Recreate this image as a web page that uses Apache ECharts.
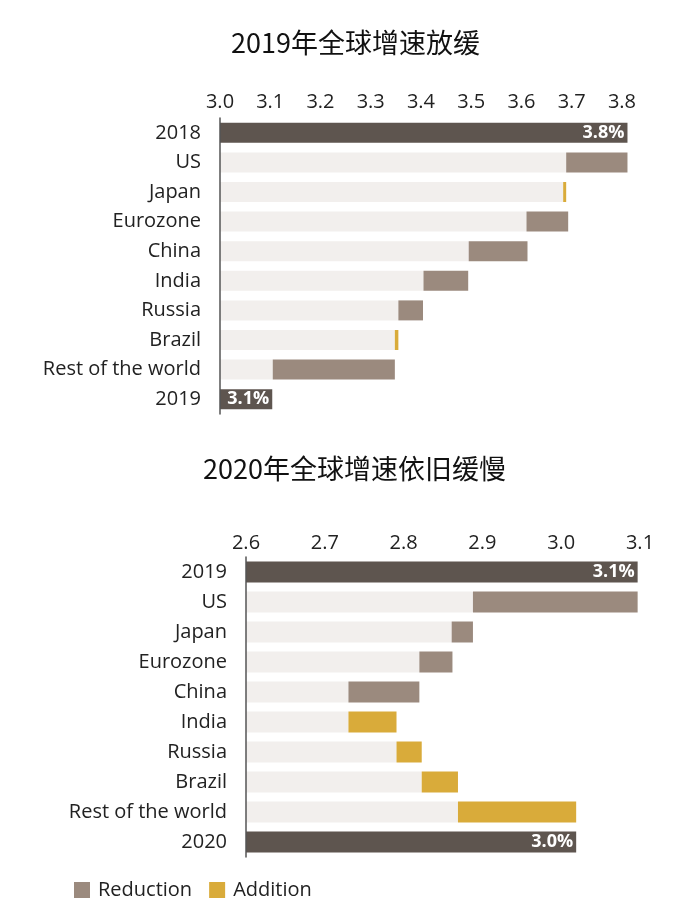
<!DOCTYPE html>
<html>
<head>
<meta charset="utf-8">
<script src="https://cdn.jsdelivr.net/npm/echarts@6/dist/echarts.min.js"></script>
<style>
html,body{margin:0;padding:0;background:#fff;}
#c{width:680px;height:924px;}
</style>
</head>
<body>
<div id="c"></div>
<script>
// ---- Chart 1: 2019 ----
const topTitle = '2019年全球增速放缓';
const topCategories = ['2018','US','Japan','Eurozone','China','India','Russia','Brazil','Rest of the world','2019'];
const topTotals = [3.811, null, null, null, null, null, null, null, null, 3.104];
const topTotalLabels = ['3.8%', '', '', '', '', '', '', '', '', '3.1%'];
const topLow  = [null, 3.689, 3.683, 3.610, 3.495, 3.405, 3.355, 3.348, 3.105, null];
const topHigh = [null, 3.811, 3.689, 3.693, 3.612, 3.494, 3.404, 3.355, 3.348, null];
const topKind = ['total','reduction','addition','reduction','reduction','reduction','reduction','addition','reduction','total'];
const topTicks = [3.0, 3.82, 0.1]; // min, axis end, step (labels 3.0–3.8)

// ---- Chart 2: 2020 ----
const botTitle = '2020年全球增速依旧缓慢';
const botCategories = ['2019','US','Japan','Eurozone','China','India','Russia','Brazil','Rest of the world','2020'];
const botTotals = [3.097, null, null, null, null, null, null, null, null, 3.019];
const botTotalLabels = ['3.1%', '', '', '', '', '', '', '', '', '3.0%'];
const botLow  = [null, 2.888, 2.861, 2.820, 2.730, 2.730, 2.791, 2.823, 2.869, null];
const botHigh = [null, 3.097, 2.888, 2.862, 2.820, 2.791, 2.823, 2.869, 3.019, null];
const botKind = ['total','reduction','reduction','reduction','reduction','addition','addition','addition','addition','total'];
const botTicks = [2.6, 3.1, 0.1];

const legendNames = ['Reduction', 'Addition'];

const C_TOTAL = '#5e554f', C_RED = '#9b8a7e', C_ADD = '#d9ab3a', C_BASE = '#f2efed';
const FONT = '"Open Sans", "Noto Sans", sans-serif';
const CJK = '"Noto Sans CJK SC", sans-serif';

function deltas(low, high, kind, which) {
  return low.map((l, i) => (kind[i] === which && l != null) ? +(high[i] - l).toFixed(4) : null);
}

function buildSeries(idx, low, high, kind, totals, labels, barW) {
  const common = { type: 'bar', xAxisIndex: idx, yAxisIndex: idx, stack: 's' + idx, barWidth: barW, silent: true };
  return [
    Object.assign({}, common, { name: 'base' + idx, data: low, itemStyle: { color: C_BASE } }),
    Object.assign({}, common, { name: 'Reduction', data: deltas(low, high, kind, 'reduction'), itemStyle: { color: C_RED } }),
    Object.assign({}, common, { name: 'Addition', data: deltas(low, high, kind, 'addition'), itemStyle: { color: C_ADD } }),
    Object.assign({}, common, {
      name: 'total' + idx, data: totals, itemStyle: { color: C_TOTAL },
      label: {
        show: true, position: 'insideRight', distance: 3, color: '#fff', fontFamily: FONT,
        fontWeight: 'bold', fontSize: 18, formatter: p => labels[p.dataIndex]
      }
    })
  ];
}

function xAx(idx, ticks, margin) {
  return {
    type: 'value', gridIndex: idx, position: 'top', min: ticks[0], max: ticks[1], interval: ticks[2],
    axisLine: { show: false }, axisTick: { show: false }, splitLine: { show: false },
    axisLabel: {
      color: '#222', fontSize: 20, fontFamily: FONT, margin: margin,
      formatter: v => (Math.abs(v * 10 - Math.round(v * 10)) > 1e-6) ? '' : v.toFixed(1)
    }
  };
}
function yAx(idx, cats) {
  return {
    type: 'category', gridIndex: idx, inverse: true, data: cats, z: 5,
    axisLine: { show: true, onZero: false, lineStyle: { color: '#555', width: 1.5 } },
    axisTick: { show: false },
    axisLabel: { color: '#222', fontSize: 20, fontFamily: FONT, margin: 19 }
  };
}

const chart = echarts.init(document.getElementById('c'), null, { renderer: 'canvas' });
chart.setOption({
  animation: false,
  backgroundColor: '#fff',
  title: [
    { text: topTitle, left: 226, top: 24, textStyle: { fontFamily: CJK, fontSize: 27, fontWeight: 'normal', color: '#111' } },
    { text: botTitle, left: 198, top: 450, textStyle: { fontFamily: CJK, fontSize: 27, fontWeight: 'normal', color: '#111' } }
  ],
  legend: {
    data: legendNames, left: 69, top: 875, icon: 'rect', itemWidth: 16, itemHeight: 16, itemGap: 17,
    selectedMode: false,
    textStyle: { color: '#222', fontSize: 20, fontFamily: FONT, padding: [0, 0, 0, 3] }
  },
  grid: [
    { left: 220, right: 48, top: 118, height: 296 },
    { left: 246, right: 40, top: 557, height: 300 }
  ],
  xAxis: [xAx(0, topTicks, 6), xAx(1, botTicks, 4)],
  yAxis: [yAx(0, topCategories), yAx(1, botCategories)],
  series: [].concat(
    buildSeries(0, topLow, topHigh, topKind, topTotals, topTotalLabels, 20),
    buildSeries(1, botLow, botHigh, botKind, botTotals, botTotalLabels, 21)
  )
});
</script>
</body>
</html>
